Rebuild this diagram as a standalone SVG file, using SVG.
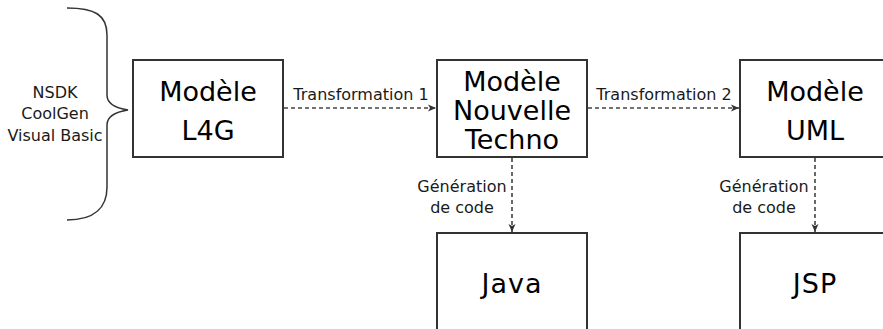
<svg xmlns="http://www.w3.org/2000/svg" width="883" height="329" viewBox="0 0 883 329">
  <style>
    .box { fill: #ffffff; stroke: #333333; stroke-width: 2; }
    .big { font-family: "DejaVu Sans", sans-serif; font-size: 27px; fill: #000000; text-anchor: middle; }
    .small { font-family: "DejaVu Sans", sans-serif; font-size: 16px; fill: #1a1a1a; text-anchor: middle; }
    .edge { fill: none; stroke: #444444; stroke-width: 1.6; stroke-dasharray: 4 3; }
    .brace { fill: none; stroke: #333333; stroke-width: 1.5; }
  </style>
  <defs>
    <marker id="arrow" viewBox="0 0 8 8" refX="8" refY="4" markerWidth="8" markerHeight="8" markerUnits="userSpaceOnUse" orient="auto">
      <path d="M0,0.5 L8,4 L0,7.5 L2,4 z" fill="#333333"/>
    </marker>
  </defs>
  <rect width="883" height="329" fill="#ffffff"/>

  <!-- source languages and brace -->
  <g id="sources">
    <path class="brace" d="M67,8 C95,8 107,15 107,35 L107,95 C107,104 115,108 128,110 C115,112 107,116 107,125 L107,187 C107,207 95,220 67,220"/>
    <text class="small" x="55" y="98">NSDK</text>
    <text class="small" x="55" y="119">CoolGen</text>
    <text class="small" x="55" y="141">Visual Basic</text>
  </g>

  <g id="modele-l4g">
    <rect class="box" x="133" y="60" width="150" height="97"/>
    <text class="big" x="208" y="101">Modèle</text>
    <text class="big" x="208" y="140">L4G</text>
  </g>

  <g id="modele-nouvelle-techno">
    <rect class="box" x="437" y="60" width="150" height="97"/>
    <text class="big" x="512" y="91">Modèle</text>
    <text class="big" x="512" y="120">Nouvelle</text>
    <text class="big" x="512" y="149">Techno</text>
  </g>

  <g id="modele-uml">
    <rect class="box" x="740" y="60" width="150" height="97"/>
    <text class="big" x="815" y="101">Modèle</text>
    <text class="big" x="815" y="140">UML</text>
  </g>

  <g id="java">
    <rect class="box" x="437" y="233" width="150" height="110"/>
    <text class="big" x="512" y="293" letter-spacing="1">Java</text>
  </g>

  <g id="jsp">
    <rect class="box" x="740" y="233" width="150" height="110"/>
    <text class="big" x="815" y="293" letter-spacing="1">JSP</text>
  </g>

  <g id="connectors">
    <path class="edge" d="M284,108 L436,108" marker-end="url(#arrow)"/>
    <text class="small" x="361" y="100">Transformation 1</text>
    <path class="edge" d="M588,108 L739,108" marker-end="url(#arrow)"/>
    <text class="small" x="664" y="100">Transformation 2</text>
    <path class="edge" d="M512,158 L512,232" marker-end="url(#arrow)"/>
    <text class="small" x="462" y="192">Génération</text>
    <text class="small" x="462" y="213">de code</text>
    <path class="edge" d="M815,158 L815,232" marker-end="url(#arrow)"/>
    <text class="small" x="764" y="192">Génération</text>
    <text class="small" x="764" y="213">de code</text>
  </g>
</svg>
